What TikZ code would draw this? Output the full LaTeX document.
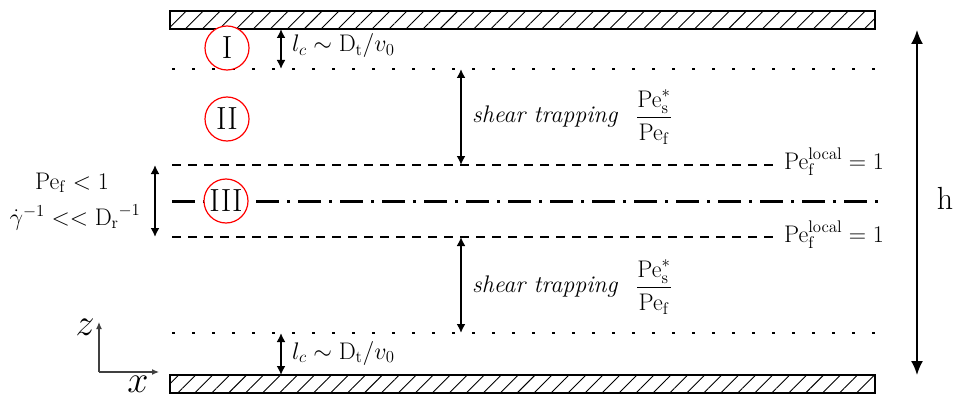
\documentclass[tikz,border=0pt]{standalone}
\usepackage{fix-cm}
\usepackage{amsmath}
\usetikzlibrary{arrows.meta,patterns.meta}
\tikzset{
  wall/.style={draw, line width=2.2pt, pattern={Lines[angle=45,distance=12pt,line width=0.9pt]}, minimum width=705pt, minimum height=18pt, inner sep=0pt},
  region/.style={draw=red, fill=white, line width=1.2pt, circle, minimum size=44pt, inner sep=0pt, font=\fontsize{32}{34}\selectfont},
  dotline/.style={line width=2.6pt, dash pattern=on 2.6pt off 17.4pt},
  dashline/.style={line width=2.4pt, dash pattern=on 9pt off 7pt},
  dashdotline/.style={line width=3pt, dash pattern=on 23pt off 8pt on 3pt off 8pt},
  dar/.style={line width=1.8pt, {Latex[length=9pt,width=9pt]}-{Latex[length=9pt,width=9pt]}},
  har/.style={line width=1.8pt, {Latex[length=14pt,width=12pt]}-{Latex[length=14pt,width=12pt]}},
  axar/.style={line width=1.2pt, draw=black!75, -{Latex[length=7pt,width=6pt]}},
  lab/.style={font=\fontsize{24}{28}\selectfont, inner sep=0pt},
  big/.style={font=\fontsize{32}{34}\selectfont, inner sep=0pt},
  ax/.style={font=\fontsize{38}{40}\selectfont, inner sep=0pt}
}
\begin{document}
\begin{tikzpicture}[x=1pt,y=-1pt]
\useasboundingbox (0,0) rectangle (957,401);
% walls
\node[wall] (topwall) at (522.5,20) {};
\node[wall] (botwall) at (522.5,384) {};
% lines
\coordinate (d1L) at (172,69);  \coordinate (d1R) at (876,69);
\coordinate (e1L) at (172,165); \coordinate (e1R) at (778,165);
\coordinate (cL) at (172,201);  \coordinate (cR) at (878,201);
\coordinate (e2L) at (172,237); \coordinate (e2R) at (778,237);
\coordinate (d2L) at (172,333); \coordinate (d2R) at (876,333);
\draw[dotline] (d1L) -- (d1R);
\draw[dashline] (e1L) -- (e1R);
\draw[dashdotline] (cL) -- (cR);
\draw[dashline] (e2L) -- (e2R);
\draw[dotline] (d2L) -- (d2R);
% regions
\node[region] (r1) at (227,48) {I};
\node[region] (r2) at (227,119) {II};
\node[region] (r3) at (226,201) {III};
% l_c arrows
\coordinate (a1t) at (281,29);  \coordinate (a1b) at (281,69);
\coordinate (a2t) at (281,333); \coordinate (a2b) at (281,375);
\draw[dar] (a1t) -- (a1b);
\draw[dar] (a2t) -- (a2b);
\node[lab, anchor=west] (lc1) at (292,46) {$l_c \sim \mathrm{D}_\mathrm{t}/v_0$};
\node[lab, anchor=west] (lc2) at (292,353) {$l_c \sim \mathrm{D}_\mathrm{t}/v_0$};
% shear trapping
\coordinate (s1t) at (461,69);  \coordinate (s1b) at (461,165);
\coordinate (s2t) at (461,237); \coordinate (s2b) at (461,333);
\draw[dar] (s1t) -- (s1b);
\draw[dar] (s2t) -- (s2b);
\node[lab, anchor=west] (st1) at (472,117) {\itshape shear trapping};
\node[lab] (fr1) at (654,117) {$\dfrac{\mathrm{Pe}_\mathrm{s}^*}{\mathrm{Pe}_\mathrm{f}}$};
\node[lab, anchor=west] (st2) at (472,287) {\itshape shear trapping};
\node[lab] (fr2) at (654,287) {$\dfrac{\mathrm{Pe}_\mathrm{s}^*}{\mathrm{Pe}_\mathrm{f}}$};
% local labels
\node[lab, anchor=west] (pl1) at (784,162) {$\mathrm{Pe}_\mathrm{f}^\mathrm{local}=1$};
\node[lab, anchor=west] (pl2) at (784,235) {$\mathrm{Pe}_\mathrm{f}^\mathrm{local}=1$};
% core
\coordinate (ct) at (155,165); \coordinate (cb) at (155,237);
\draw[dar] (ct) -- (cb);
\node[lab] (pe) at (72,183) {$\mathrm{Pe}_\mathrm{f}<1$};
\node[lab] (gam) at (75,217) {$\dot\gamma^{-1} << {\mathrm{D}_\mathrm{r}}^{-1}$};
% h
\coordinate (ht) at (917,30); \coordinate (hb) at (917,375);
\draw[har] (ht) -- (hb);
\node[big] (h) at (945,198) {h};
% axes
\coordinate (o) at (99,372);
\coordinate (zt) at (99,322);
\coordinate (xr) at (159,372);
\draw[axar] (o) -- (zt);
\draw[axar] (o) -- (xr);
\node[ax] (zl) at (85,327) {$z$};
\node[ax] (xl) at (138,384) {$x$};
\end{tikzpicture}
\end{document}
